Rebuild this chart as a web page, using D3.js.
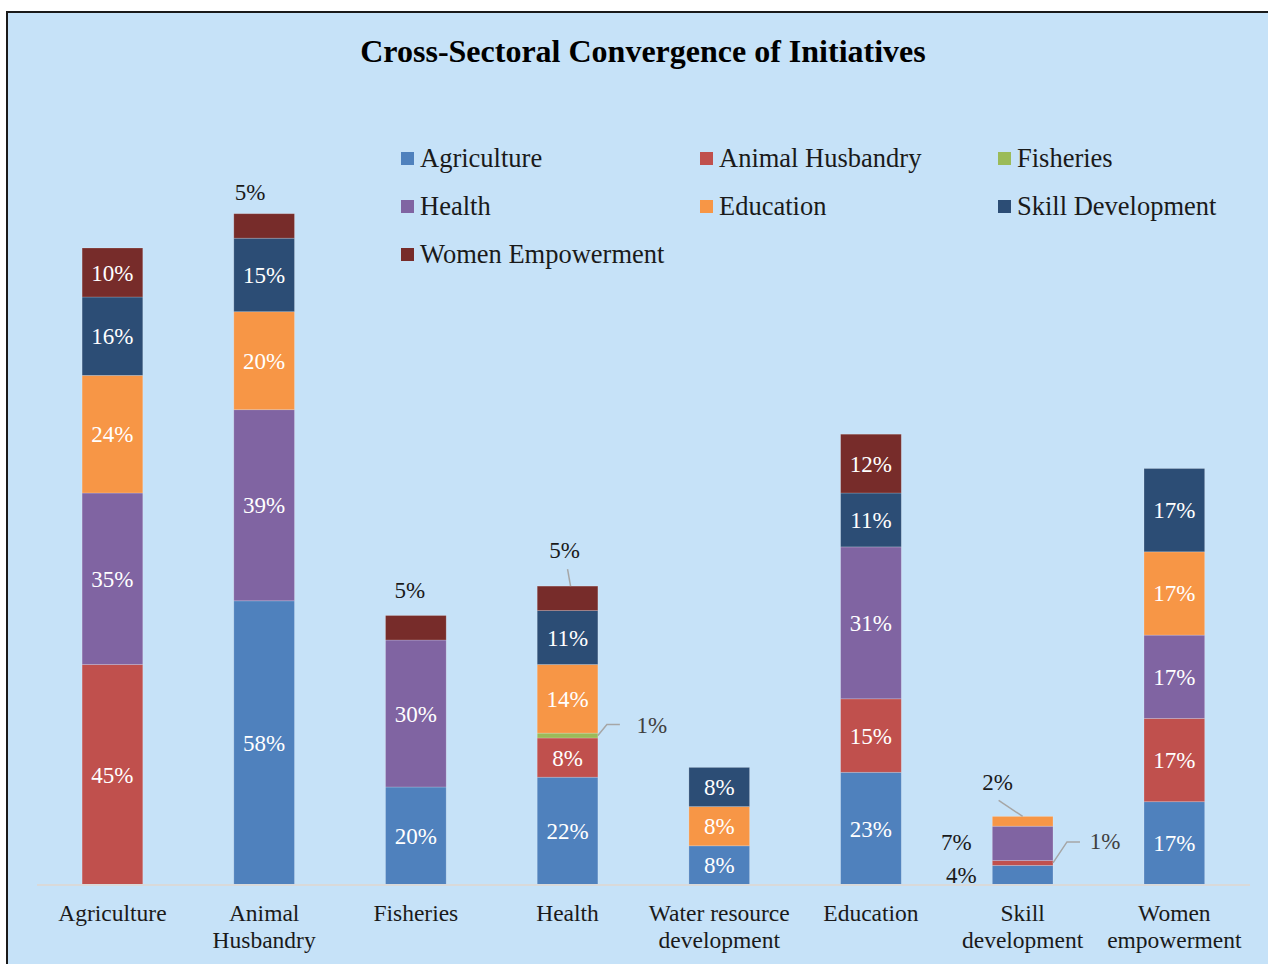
<!DOCTYPE html>
<html>
<head>
<meta charset="utf-8">
<script src="https://cdn.jsdelivr.net/npm/d3@7"></script>
<style>
  body { margin: 0; background: #fff; }
  svg text { font-family: "Liberation Serif", "Times New Roman", serif; }
</style>
</head>
<body>
<div id="chart"></div>
<script>
const categories = ['Agriculture', 'Animal Husbandry', 'Fisheries', 'Health',
  'Water resource development', 'Education', 'Skill development', 'Women empowerment'];
const categoryLines = [['Agriculture'], ['Animal', 'Husbandry'], ['Fisheries'], ['Health'],
  ['Water resource', 'development'], ['Education'], ['Skill', 'development'], ['Women', 'empowerment']];

const seriesNames = ['Agriculture', 'Animal Husbandry', 'Fisheries', 'Health',
  'Education', 'Skill Development', 'Women Empowerment'];

// percentage per category, one array per series
const agriculture      = [0, 58, 20, 22, 8, 23, 4, 17];
const animalHusbandry  = [45, 0, 0, 8, 0, 15, 1, 17];
const fisheries        = [0, 0, 0, 1, 0, 0, 0, 0];
const health           = [35, 39, 30, 0, 0, 31, 7, 17];
const education        = [24, 20, 0, 14, 8, 0, 2, 17];
const skillDevelopment = [16, 15, 0, 11, 8, 11, 0, 17];
const womenEmpowerment = [10, 5, 5, 5, 0, 12, 0, 0];

const seriesValues = [agriculture, animalHusbandry, fisheries, health,
  education, skillDevelopment, womenEmpowerment];

const colors = ['#4f81bd', '#c0504d', '#9bbb59', '#8064a2', '#f79646', '#2c4d75', '#772c2a'];

// outside labels: offsets from segment (styling only)
const outside = {
  'Animal Husbandry|Women Empowerment': { dx: -14, y: 'top', dy: -14 },
  'Fisheries|Women Empowerment': { dx: -6, y: 'top', dy: -18 },
  'Health|Women Empowerment': { dx: -3, y: 'top', dy: -28, leader: [[3, 0], [0, -17]] },
  'Health|Fisheries': { side: 'right', dx: 54, dy: -3, leader: [[0, 0], [9, -11], [22, -11]] },
  'Skill development|Education': { dx: -25, y: 'top', dy: -26, leader: [[0, 0], [-24, -16]] },
  'Skill development|Health': { side: 'left', dx: -36, dy: 7 },
  'Skill development|Agriculture': { side: 'left', dx: -31, dy: 8 },
  'Skill development|Animal Husbandry': { side: 'right', dx: 52, dy: -14, leader: [[0, 0], [14, -21], [27, -21]] }
};

const width = 1268;
const height = 964;

const svg = d3.select('#chart').append('svg')
  .attr('width', width)
  .attr('height', height);

svg.append('rect')
  .attr('x', 7).attr('y', 12)
  .attr('width', width).attr('height', height)
  .attr('fill', '#c6e2f8')
  .attr('stroke', '#1a1a1a')
  .attr('stroke-width', 2);

svg.append('text')
  .attr('x', 643).attr('y', 62)
  .attr('text-anchor', 'middle')
  .attr('font-size', 32)
  .attr('font-weight', 'bold')
  .attr('fill', '#000')
  .text('Cross-Sectoral Convergence of Initiatives');

const x = d3.scaleBand()
  .domain(categories)
  .range([36.6, 1250.2])
  .paddingInner(0.6)
  .paddingOuter(0.3);

const y = d3.scaleLinear()
  .domain([0, 140])
  .range([885, 199]);

// build table for stack
const table = categories.map((c, i) => {
  const row = { category: c };
  seriesNames.forEach((s, j) => { row[s] = seriesValues[j][i]; });
  return row;
});

const stacked = d3.stack().keys(seriesNames)(table);

const layers = svg.append('g').selectAll('g')
  .data(stacked)
  .join('g')
  .attr('fill', (d, i) => colors[i]);

layers.selectAll('rect')
  .data(d => d.filter(p => p[1] - p[0] > 0))
  .join('rect')
  .attr('x', d => x(d.data.category))
  .attr('width', x.bandwidth())
  .attr('y', d => y(d[1]))
  .attr('height', d => y(d[0]) - y(d[1]))
  .attr('stroke', 'rgba(255,255,255,0.25)')
  .attr('stroke-width', 0.8);

// baseline
svg.append('line')
  .attr('x1', 37).attr('x2', 1250)
  .attr('y1', y(0)).attr('y2', y(0))
  .attr('stroke', '#d9d9d9')
  .attr('stroke-width', 2);

// labels
const labels = svg.append('g').attr('font-size', 23);
stacked.forEach(layer => {
  layer.forEach(p => {
    const v = p[1] - p[0];
    if (v <= 0) return;
    const cat = p.data.category;
    const key = cat + '|' + layer.key;
    const cx = x(cat) + x.bandwidth() / 2;
    const mid = (y(p[0]) + y(p[1])) / 2;
    const o = outside[key];
    if (!o) {
      labels.append('text')
        .attr('x', cx).attr('y', mid + 8)
        .attr('text-anchor', 'middle')
        .attr('fill', '#fff')
        .text(v + '%');
      return;
    }
    let ax, ay;
    if (o.side === 'right') { ax = x(cat) + x.bandwidth(); ay = mid; }
    else if (o.side === 'left') { ax = x(cat); ay = mid; }
    else { ax = cx; ay = y(p[1]); }
    if (o.leader) {
      svg.append('path')
        .attr('d', d3.line()(o.leader.map(q => [ax + q[0], ay + q[1]])))
        .attr('fill', 'none')
        .attr('stroke', '#a6a6a6')
        .attr('stroke-width', 1.5);
    }
    labels.append('text')
      .attr('x', ax + o.dx).attr('y', ay + o.dy)
      .attr('text-anchor', 'middle')
      .attr('fill', o.side === 'right' ? '#404040' : '#1a1a1a')
      .text(v + '%');
  });
});

// category axis labels
const catLabels = svg.append('g')
  .attr('font-size', 23.5)
  .attr('fill', '#1a1a1a')
  .attr('text-anchor', 'middle');
categories.forEach((c, i) => {
  const t = catLabels.append('text')
    .attr('x', x(c) + x.bandwidth() / 2)
    .attr('y', 921);
  categoryLines[i].forEach((line, k) => {
    t.append('tspan')
      .attr('x', x(c) + x.bandwidth() / 2)
      .attr('dy', k === 0 ? 0 : 27)
      .text(line);
  });
});

// legend
const legendCols = [401, 700, 998];
const legend = svg.append('g').attr('font-size', 26.5);
seriesNames.forEach((s, i) => {
  const lx = legendCols[i % 3];
  const ly = 158 + Math.floor(i / 3) * 48;
  legend.append('rect')
    .attr('x', lx).attr('y', ly - 6)
    .attr('width', 13).attr('height', 13)
    .attr('fill', colors[i]);
  legend.append('text')
    .attr('x', lx + 19).attr('y', ly + 9)
    .attr('fill', '#1a1a1a')
    .text(s);
});
</script>
</body>
</html>
